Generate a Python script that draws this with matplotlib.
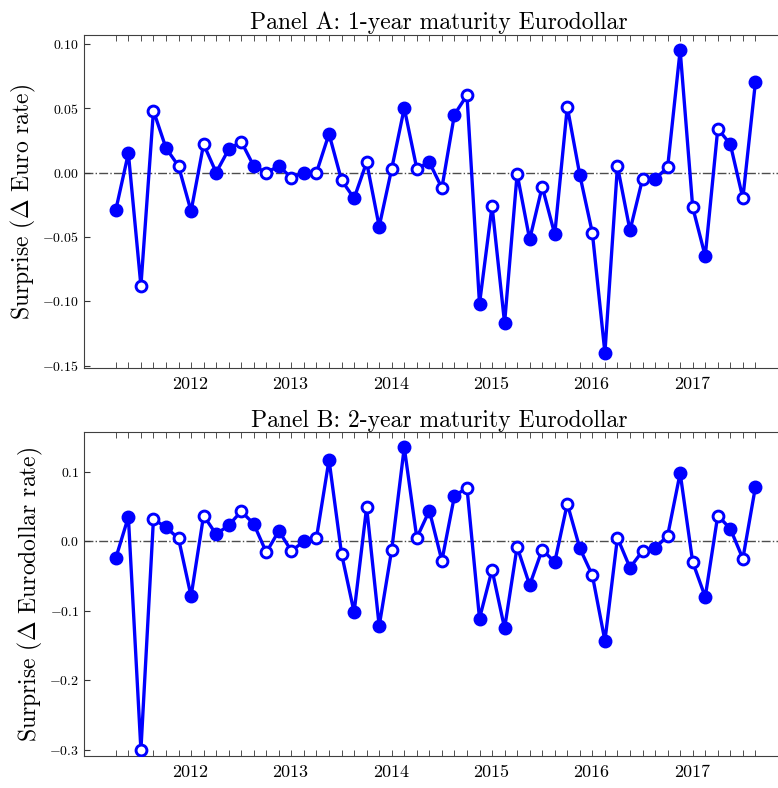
import numpy as np
import matplotlib
matplotlib.use("Agg")
import matplotlib.pyplot as plt
from matplotlib.ticker import FixedLocator

plt.rcParams['font.family'] = 'serif'
plt.rcParams['font.serif'] = ['cmr10']
plt.rcParams['mathtext.fontset'] = 'cm'
plt.rcParams['axes.formatter.use_mathtext'] = True

# meetings, about eight per year, first one in spring 2011
first_meeting = 2011.26
meetings_per_year = 8
n_meetings = 52
meeting_x = first_meeting + np.arange(n_meetings) / meetings_per_year

# which surprises are drawn with filled markers
filled_idx = [0, 1, 4, 6, 8, 9, 11, 13, 15, 17, 19, 21, 23, 25, 27, 29, 31,
              33, 35, 37, 39, 41, 43, 45, 47, 49, 51]

surprise_1y = [-0.029, 0.015, -0.088, 0.048, 0.019, 0.005, -0.030, 0.022,
               0.000, 0.018, 0.024, 0.005, 0.000, 0.005, -0.004, 0.000,
               0.000, 0.030, -0.006, -0.020, 0.008, -0.042, 0.003, 0.050,
               0.003, 0.008, -0.012, 0.045, 0.060, -0.102, -0.026, -0.117,
               -0.001, -0.052, -0.011, -0.048, 0.051, -0.002, -0.047, -0.140,
               0.005, -0.045, -0.005, -0.005, 0.004, 0.095, -0.027, -0.065,
               0.034, 0.022, -0.020, 0.070]

surprise_2y = [-0.024, 0.035, -0.300, 0.032, 0.020, 0.004, -0.079, 0.037,
               0.010, 0.023, 0.043, 0.025, -0.016, 0.015, -0.014, 0.000,
               0.005, 0.117, -0.018, -0.102, 0.049, -0.122, -0.012, 0.135,
               0.005, 0.044, -0.028, 0.065, 0.077, -0.111, -0.041, -0.125,
               -0.008, -0.063, -0.012, -0.030, 0.054, -0.010, -0.049, -0.143,
               0.005, -0.038, -0.014, -0.010, 0.008, 0.098, -0.030, -0.080,
               0.037, 0.018, -0.025, 0.078]

years = [2012, 2013, 2014, 2015, 2016, 2017]

panels = [
    ("Panel A: 1-year maturity Eurodollar", r"Surprise ($\Delta$ Euro rate)",
     surprise_1y, [-0.15, -0.10, -0.05, 0.00, 0.05, 0.10], "{:.2f}",
     (-0.1518, 0.1068)),
    ("Panel B: 2-year maturity Eurodollar", r"Surprise ($\Delta$ Eurodollar rate)",
     surprise_2y, [-0.3, -0.2, -0.1, 0.0, 0.1], "{:.1f}",
     (-0.3086, 0.1566)),
]

fig = plt.figure(figsize=(7.78, 7.88), dpi=100)
# the right edge of the axes runs past the figure, as in the original
boxes = [[0.108, 0.533, 0.9126, 0.4226], [0.108, 0.0406, 0.9126, 0.4108]]

filled = np.zeros(n_meetings, dtype=bool)
filled[filled_idx] = True

for box, (title, ylabel, vals, yticks, fmt, ylim) in zip(boxes, panels):
    ax = fig.add_axes(box)
    vals = np.array(vals)
    ax.axhline(0, color='0.3', lw=1.0, ls='-.', zorder=1)
    ax.plot(meeting_x, vals, color='blue', lw=2.4, zorder=2)
    ax.plot(meeting_x[filled], vals[filled], 'o', ms=9, color='blue',
            mec='blue', zorder=3, ls='none')
    ax.plot(meeting_x[~filled], vals[~filled], 'o', ms=7.8, mfc='white',
            mec='blue', mew=2.1, zorder=3, ls='none')

    ax.set_xlim(2010.943, 2018.02)
    ax.set_ylim(*ylim)
    ax.set_xticks(years)
    ax.set_xticklabels([str(y) for y in years], fontsize=13)
    ax.xaxis.set_minor_locator(FixedLocator(meeting_x))
    ax.tick_params(axis='x', which='major', length=0, pad=6)
    ax.tick_params(axis='x', which='minor', direction='in', length=4,
                   top=True, bottom=True, color='0.2')
    ax.set_yticks(yticks)
    ax.set_yticklabels(["$" + fmt.format(t) + "$" for t in yticks],
                       fontsize=10)
    ax.tick_params(axis='y', direction='in', length=4, color='0.2')
    for s in ax.spines.values():
        s.set_color('0.25')
    ax.set_title(title, fontsize=17, pad=4)
    ax.set_ylabel(ylabel, fontsize=17, labelpad=3)

fig.savefig("out.png", dpi=100)
